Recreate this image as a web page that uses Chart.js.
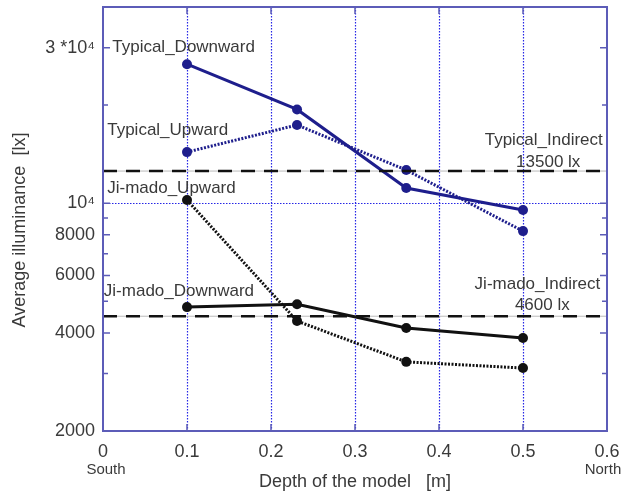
<!DOCTYPE html>
<html>
<head>
<meta charset="utf-8">
<script src="https://cdn.jsdelivr.net/npm/chart.js@4/dist/chart.umd.min.js"></script>
<style>
  html,body{margin:0;padding:0;background:#fff}
  #wrap{width:626px;height:495px}
</style>
</head>
<body>
<div id="wrap"><canvas id="chart" width="626" height="495"></canvas></div>
<script>
// depth of the model [m]
const depth=[0.1,0.231,0.361,0.5];
const typicalDownward=[26700,19400,11130,9530];
const typicalUpward=[14350,17380,12640,8210];
const jimadoDownward=[4800,4900,4140,3860];
const jimadoUpward=[10230,4350,3260,3120];
// indirect reference levels, as drawn
const typicalIndirect=12550;
const jimadoIndirect=4500;

const xTicks=[0,0.1,0.2,0.3,0.4,0.5,0.6];
const yTicks=[2000,3000,4000,5000,6000,7000,8000,9000,10000,20000,30000,40000];
const yTickLabels={2000:'2000',4000:'4000',6000:'6000',8000:'8000',10000:'10⁴',30000:'3 *10⁴'};
const xGridAt=[0.1,0.2,0.3,0.4,0.5];
const yGridAt=[10000];

const FONT='"Liberation Sans", Arial, Helvetica, sans-serif';
const TXT='#3a3a3a';
const NAVY='#1e1e8c';
const INK='#111';

const notes=[
  {text:'Typical_Downward',x:0.011,y:30000,align:'left'},
  {text:'Typical_Upward',x:0.005,y:16760,align:'left'},
  {text:'Ji-mado_Upward',x:0.005,y:11130,align:'left'},
  {text:'Ji-mado_Downward',x:0.001,y:5370,align:'left'},
  {text:'Typical_Indirect',x:0.595,y:15620,align:'right'},
  {text:'13500 lx',x:0.53,y:13370,align:'center'},
  {text:'Ji-mado_Indirect',x:0.592,y:5650,align:'right'},
  {text:'4600 lx',x:0.523,y:4870,align:'center'}
];

const pts=arr=>depth.map((x,i)=>({x:x,y:arr[i]}));
const level=v=>[{x:0,y:v},{x:0.6,y:v}];

function series(label,data,color,dotted){
  return {label,data:pts(data),borderColor:color,backgroundColor:color,borderWidth:3,
    borderDash:dotted?[2,1.5]:[],pointRadius:5,pointHoverRadius:5,pointBorderWidth:0,tension:0};
}
function refLine(label,v){
  return {label,data:level(v),borderColor:INK,borderWidth:2.5,borderDash:[14,9],pointRadius:0,tension:0};
}
function noPad(s){s.paddingTop=0;s.paddingBottom=0;s.paddingLeft=0;s.paddingRight=0;}

const frame={
  id:'frame',
  beforeDatasetsDraw(chart){
    const {ctx,chartArea:a,scales:{x,y}}=chart;
    ctx.save();
    ctx.strokeStyle='#2626e6';ctx.lineWidth=1.2;ctx.setLineDash([1.5,1.5]);
    xGridAt.forEach(v=>{const px=Math.round(x.getPixelForValue(v))+0.5;ctx.beginPath();ctx.moveTo(px,a.top);ctx.lineTo(px,a.bottom);ctx.stroke();});
    yGridAt.forEach(v=>{const py=Math.round(y.getPixelForValue(v))+0.5;ctx.beginPath();ctx.moveTo(a.left,py);ctx.lineTo(a.right,py);ctx.stroke();});
    // faint guide under the indirect levels
    ctx.setLineDash([]);ctx.strokeStyle='#bbb';ctx.lineWidth=1;
    [typicalIndirect,jimadoIndirect].forEach(v=>{const py=y.getPixelForValue(v);ctx.beginPath();ctx.moveTo(a.left,py);ctx.lineTo(a.right,py);ctx.stroke();});
    ctx.restore();
  },
  afterDatasetsDraw(chart){
    const {ctx,chartArea:a,scales:{x,y}}=chart;
    ctx.save();
    ctx.strokeStyle='#5c5cb8';ctx.lineWidth=2;
    ctx.strokeRect(a.left,a.top,a.right-a.left,a.bottom-a.top);
    ctx.lineWidth=1.5;
    yTicks.forEach(v=>{
      const py=y.getPixelForValue(v),len=yTickLabels[v]?7:5;
      ctx.beginPath();ctx.moveTo(a.left,py);ctx.lineTo(a.left+len,py);
      ctx.moveTo(a.right,py);ctx.lineTo(a.right-len,py);ctx.stroke();
    });
    xTicks.forEach(v=>{
      const px=x.getPixelForValue(v);
      ctx.beginPath();ctx.moveTo(px,a.bottom);ctx.lineTo(px,a.bottom-7);
      ctx.moveTo(px,a.top);ctx.lineTo(px,a.top+7);ctx.stroke();
    });
    ctx.fillStyle=TXT;ctx.textBaseline='middle';
    ctx.font='17px '+FONT;
    notes.forEach(n=>{ctx.textAlign=n.align;ctx.fillText(n.text,x.getPixelForValue(n.x),y.getPixelForValue(n.y));});
    ctx.font='15px '+FONT;ctx.textAlign='center';
    ctx.fillText('South',x.getPixelForValue(0)+3,470);
    ctx.fillText('North',x.getPixelForValue(0.6)-4,470);
    ctx.save();
    ctx.translate(20,230);ctx.rotate(-Math.PI/2);
    ctx.font='18px '+FONT;ctx.fillText('Average illuminance  [lx]',0,0);
    ctx.restore();
    ctx.restore();
  }
};

new Chart(document.getElementById('chart'),{
  type:'line',
  data:{datasets:[
    refLine('Typical_Indirect',typicalIndirect),
    refLine('Ji-mado_Indirect',jimadoIndirect),
    series('Typical_Downward',typicalDownward,NAVY,false),
    series('Typical_Upward',typicalUpward,NAVY,true),
    series('Ji-mado_Downward',jimadoDownward,INK,false),
    series('Ji-mado_Upward',jimadoUpward,INK,true)
  ]},
  options:{
    responsive:false,animation:false,devicePixelRatio:1,
    layout:{padding:{top:7,right:19,left:0,bottom:0}},
    plugins:{legend:{display:false},tooltip:{enabled:false}},
    scales:{
      x:{type:'linear',min:0,max:0.6,
        afterBuildTicks:s=>{s.ticks=xTicks.map(v=>({value:v}));},
        afterFit:s=>{s.height=64;noPad(s);},
        grid:{display:false,drawTicks:false},border:{display:false},
        ticks:{autoSkip:false,maxRotation:0,padding:10,color:TXT,font:{family:FONT,size:18},
          callback:v=>String(+Number(v).toFixed(1))},
        title:{display:true,text:'Depth of the model   [m]',color:TXT,font:{family:FONT,size:18},padding:{top:0,bottom:2}}
      },
      y:{type:'logarithmic',min:2000,max:40000,
        afterBuildTicks:s=>{s.ticks=yTicks.map(v=>({value:v}));},
        afterFit:s=>{s.width=103;noPad(s);},
        grid:{display:false,drawTicks:false},border:{display:false},
        ticks:{autoSkip:false,padding:8,color:TXT,font:{family:FONT,size:18},
          callback:v=>yTickLabels[v]||''}
      }
    }
  },
  plugins:[frame]
});
</script>
</body>
</html>
